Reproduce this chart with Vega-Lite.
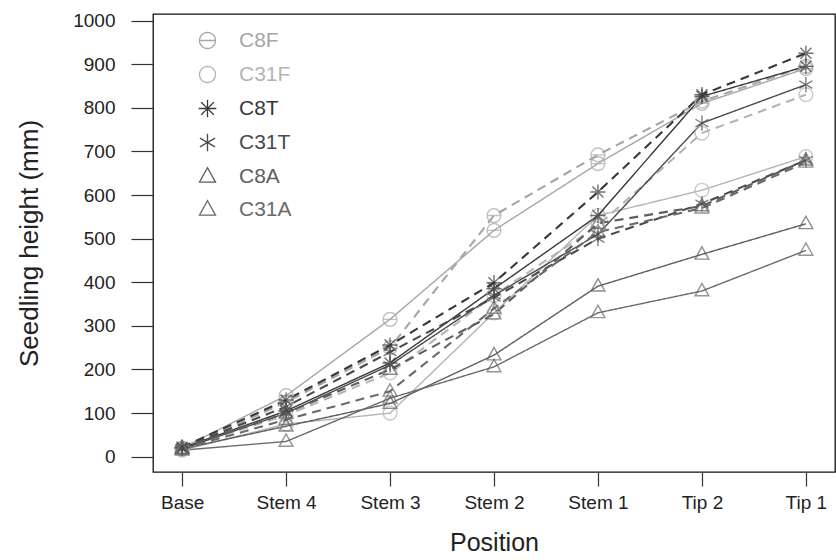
{
  "$schema": "https://vega.github.io/schema/vega-lite/v6.json",
  "width": 682,
  "height": 458,
  "autosize": {"type": "none"},
  "padding": {"left": 153, "top": 14, "right": 1, "bottom": 88},
  "background": "white",
  "config": {
    "font": "Liberation Sans",
    "view": {"stroke": "#111", "strokeWidth": 1.3},
    "axis": {
      "domain": false, "grid": false, "ticks": true,
      "tickColor": "#333", "tickWidth": 1.2,
      "labelFont": "Liberation Sans", "labelFontSize": 19, "labelColor": "#222",
      "titleFont": "Liberation Sans", "titleFontSize": 25, "titleFontWeight": "normal", "titleColor": "#222"
    },
    "legend": {
      "title": null,
      "orient": "none", "legendX": 44, "legendY": 16,
      "symbolSize": 256, "symbolStrokeWidth": 1.3,
      "labelFontSize": 21, "labelFont": "Liberation Sans", "labelOffset": 21,
      "rowPadding": 11
    }
  },
  "datasets": {
    "heights": [
      {"series": "C8F", "style": "solid", "pos": "Base", "v": 20},
      {"series": "C8F", "style": "solid", "pos": "Stem 4", "v": 140},
      {"series": "C8F", "style": "solid", "pos": "Stem 3", "v": 315},
      {"series": "C8F", "style": "solid", "pos": "Stem 2", "v": 519},
      {"series": "C8F", "style": "solid", "pos": "Stem 1", "v": 672},
      {"series": "C8F", "style": "solid", "pos": "Tip 2", "v": 810},
      {"series": "C8F", "style": "solid", "pos": "Tip 1", "v": 890},
      {"series": "C8F", "style": "dashed", "pos": "Base", "v": 18},
      {"series": "C8F", "style": "dashed", "pos": "Stem 4", "v": 125},
      {"series": "C8F", "style": "dashed", "pos": "Stem 3", "v": 250},
      {"series": "C8F", "style": "dashed", "pos": "Stem 2", "v": 553},
      {"series": "C8F", "style": "dashed", "pos": "Stem 1", "v": 692},
      {"series": "C8F", "style": "dashed", "pos": "Tip 2", "v": 815},
      {"series": "C8F", "style": "dashed", "pos": "Tip 1", "v": 895},
      {"series": "C31F", "style": "solid", "pos": "Base", "v": 15},
      {"series": "C31F", "style": "solid", "pos": "Stem 4", "v": 75},
      {"series": "C31F", "style": "solid", "pos": "Stem 3", "v": 100},
      {"series": "C31F", "style": "solid", "pos": "Stem 2", "v": 330},
      {"series": "C31F", "style": "solid", "pos": "Stem 1", "v": 553},
      {"series": "C31F", "style": "solid", "pos": "Tip 2", "v": 611},
      {"series": "C31F", "style": "solid", "pos": "Tip 1", "v": 688},
      {"series": "C31F", "style": "dashed", "pos": "Base", "v": 20},
      {"series": "C31F", "style": "dashed", "pos": "Stem 4", "v": 95},
      {"series": "C31F", "style": "dashed", "pos": "Stem 3", "v": 192},
      {"series": "C31F", "style": "dashed", "pos": "Stem 2", "v": 370},
      {"series": "C31F", "style": "dashed", "pos": "Stem 1", "v": 530},
      {"series": "C31F", "style": "dashed", "pos": "Tip 2", "v": 742},
      {"series": "C31F", "style": "dashed", "pos": "Tip 1", "v": 830},
      {"series": "C8T", "style": "solid", "pos": "Base", "v": 20},
      {"series": "C8T", "style": "solid", "pos": "Stem 4", "v": 105},
      {"series": "C8T", "style": "solid", "pos": "Stem 3", "v": 215},
      {"series": "C8T", "style": "solid", "pos": "Stem 2", "v": 385},
      {"series": "C8T", "style": "solid", "pos": "Stem 1", "v": 553},
      {"series": "C8T", "style": "solid", "pos": "Tip 2", "v": 826},
      {"series": "C8T", "style": "solid", "pos": "Tip 1", "v": 895},
      {"series": "C8T", "style": "dashed", "pos": "Base", "v": 22},
      {"series": "C8T", "style": "dashed", "pos": "Stem 4", "v": 130},
      {"series": "C8T", "style": "dashed", "pos": "Stem 3", "v": 256},
      {"series": "C8T", "style": "dashed", "pos": "Stem 2", "v": 399},
      {"series": "C8T", "style": "dashed", "pos": "Stem 1", "v": 607},
      {"series": "C8T", "style": "dashed", "pos": "Tip 2", "v": 830},
      {"series": "C8T", "style": "dashed", "pos": "Tip 1", "v": 925},
      {"series": "C31T", "style": "solid", "pos": "Base", "v": 18},
      {"series": "C31T", "style": "solid", "pos": "Stem 4", "v": 100},
      {"series": "C31T", "style": "solid", "pos": "Stem 3", "v": 210},
      {"series": "C31T", "style": "solid", "pos": "Stem 2", "v": 370},
      {"series": "C31T", "style": "solid", "pos": "Stem 1", "v": 510},
      {"series": "C31T", "style": "solid", "pos": "Tip 2", "v": 765},
      {"series": "C31T", "style": "solid", "pos": "Tip 1", "v": 853},
      {"series": "C31T", "style": "dashed", "pos": "Base", "v": 20},
      {"series": "C31T", "style": "dashed", "pos": "Stem 4", "v": 115},
      {"series": "C31T", "style": "dashed", "pos": "Stem 3", "v": 240},
      {"series": "C31T", "style": "dashed", "pos": "Stem 2", "v": 365},
      {"series": "C31T", "style": "dashed", "pos": "Stem 1", "v": 500},
      {"series": "C31T", "style": "dashed", "pos": "Tip 2", "v": 580},
      {"series": "C31T", "style": "dashed", "pos": "Tip 1", "v": 680},
      {"series": "C8A", "style": "solid", "pos": "Base", "v": 18},
      {"series": "C8A", "style": "solid", "pos": "Stem 4", "v": 70},
      {"series": "C8A", "style": "solid", "pos": "Stem 3", "v": 122},
      {"series": "C8A", "style": "solid", "pos": "Stem 2", "v": 233},
      {"series": "C8A", "style": "solid", "pos": "Stem 1", "v": 391},
      {"series": "C8A", "style": "solid", "pos": "Tip 2", "v": 464},
      {"series": "C8A", "style": "solid", "pos": "Tip 1", "v": 534},
      {"series": "C8A", "style": "dashed", "pos": "Base", "v": 20},
      {"series": "C8A", "style": "dashed", "pos": "Stem 4", "v": 100},
      {"series": "C8A", "style": "dashed", "pos": "Stem 3", "v": 200},
      {"series": "C8A", "style": "dashed", "pos": "Stem 2", "v": 327},
      {"series": "C8A", "style": "dashed", "pos": "Stem 1", "v": 535},
      {"series": "C8A", "style": "dashed", "pos": "Tip 2", "v": 575},
      {"series": "C8A", "style": "dashed", "pos": "Tip 1", "v": 680},
      {"series": "C31A", "style": "solid", "pos": "Base", "v": 15},
      {"series": "C31A", "style": "solid", "pos": "Stem 4", "v": 35},
      {"series": "C31A", "style": "solid", "pos": "Stem 3", "v": 134},
      {"series": "C31A", "style": "solid", "pos": "Stem 2", "v": 206},
      {"series": "C31A", "style": "solid", "pos": "Stem 1", "v": 330},
      {"series": "C31A", "style": "solid", "pos": "Tip 2", "v": 380},
      {"series": "C31A", "style": "solid", "pos": "Tip 1", "v": 473},
      {"series": "C31A", "style": "dashed", "pos": "Base", "v": 18},
      {"series": "C31A", "style": "dashed", "pos": "Stem 4", "v": 85},
      {"series": "C31A", "style": "dashed", "pos": "Stem 3", "v": 150},
      {"series": "C31A", "style": "dashed", "pos": "Stem 2", "v": 340},
      {"series": "C31A", "style": "dashed", "pos": "Stem 1", "v": 515},
      {"series": "C31A", "style": "dashed", "pos": "Tip 2", "v": 570},
      {"series": "C31A", "style": "dashed", "pos": "Tip 1", "v": 675}
    ]
  },
  "data": {"name": "heights"},
  "encoding": {
    "x": {
      "field": "pos", "type": "ordinal",
      "sort": ["Base", "Stem 4", "Stem 3", "Stem 2", "Stem 1", "Tip 2", "Tip 1"],
      "scale": {"type": "point", "padding": 0.28},
      "axis": {"title": "Position", "labelAngle": 0, "tickSize": 14, "labelPadding": 7, "titlePadding": 18}
    },
    "y": {
      "field": "v", "type": "quantitative",
      "scale": {"domain": [-35, 1015], "nice": false, "zero": false},
      "axis": {"title": "Seedling height (mm)", "format": "d", "values": [0, 100, 200, 300, 400, 500, 600, 700, 800, 900, 1000], "tickSize": 22, "labelPadding": 16, "titlePadding": 30, "titleFontSize": 26}
    },
    "color": {
      "field": "series", "type": "nominal",
      "scale": {"domain": ["C8F", "C31F", "C8T", "C31T", "C8A", "C31A"], "range": ["#a6a6a6", "#b4b4b4", "#383838", "#4a4a4a", "#5e5e5e", "#6a6a6a"]},
      "legend": {
        "encode": {
          "symbols": {"update": {
            "size": {"value": 256},
            "fill": {"value": "transparent"},
            "strokeDash": {"value": [1, 0]},
            "strokeWidth": {"value": 1.3},
            "shape": {"signal": "datum.value === 'C8F' ? 'M-3,0H3M0.75,0A0.75,0.75 0 1,1 -0.75,0A0.75,0.75 0 1,1 0.75,0' : datum.value === 'C31F' ? 'M-3,0H-0.75M0.75,0H3M0.75,0A0.75,0.75 0 1,1 -0.75,0A0.75,0.75 0 1,1 0.75,0' : datum.value === 'C8T' ? 'M-3,0H3M0,-0.9V0.9M-0.65,-0.65L0.65,0.65M-0.65,0.65L0.65,-0.65' : datum.value === 'C31T' ? 'M-3,0H3M0,-0.9V0.9M-0.78,-0.45L0.78,0.45M-0.78,0.45L0.78,-0.45' : 'M-3,0.2H-0.6M0.6,0.2H3M0,-0.85L0.8,0.55L-0.8,0.55Z'"}
          }},
          "labels": {"update": {"fill": {"signal": "scale('color', datum.value)"}}}
        }
      }
    }
  },
  "layer": [
    {
      "mark": {"type": "line"},
      "encoding": {
        "strokeDash": {
          "field": "style", "type": "nominal",
          "scale": {"domain": ["solid", "dashed"], "range": [[1, 0], [9, 6]]},
          "legend": null
        },
        "strokeWidth": {
          "field": "style", "type": "nominal",
          "scale": {"domain": ["solid", "dashed"], "range": [1.4, 2.1]},
          "legend": null
        },
        "detail": {"field": "style"}
      }
    },
    {
      "mark": {"type": "point", "filled": false, "size": 190, "strokeWidth": 1.4},
      "encoding": {
        "shape": {
          "field": "series", "type": "nominal",
          "scale": {"domain": ["C8F", "C31F", "C8T", "C31T", "C8A", "C31A"], "range": [
            "M-1,0H1M1,0A1,1 0 1,1 -1,0A1,1 0 1,1 1,0",
            "M1,0A1,1 0 1,1 -1,0A1,1 0 1,1 1,0",
            "M0,-1.1V1.1M-1.1,0H1.1M-0.8,-0.8L0.8,0.8M-0.8,0.8L0.8,-0.8",
            "M0,-1.1V1.1M-0.95,-0.55L0.95,0.55M-0.95,0.55L0.95,-0.55",
            "M0,-1.1L1,0.7L-1,0.7Z",
            "M0,-1.1L1,0.7L-1,0.7Z"
          ]},
          "legend": {
            "encode": {
              "symbols": {"update": {
                "size": {"value": 256},
                "fill": {"value": "transparent"},
                "strokeDash": {"value": [1, 0]},
                "strokeWidth": {"value": 1.3},
                "shape": {"signal": "datum.value === 'C8F' ? 'M-3,0H3M0.75,0A0.75,0.75 0 1,1 -0.75,0A0.75,0.75 0 1,1 0.75,0' : datum.value === 'C31F' ? 'M-3,0H-0.75M0.75,0H3M0.75,0A0.75,0.75 0 1,1 -0.75,0A0.75,0.75 0 1,1 0.75,0' : datum.value === 'C8T' ? 'M-3,0H3M0,-0.9V0.9M-0.65,-0.65L0.65,0.65M-0.65,0.65L0.65,-0.65' : datum.value === 'C31T' ? 'M-3,0H3M0,-0.9V0.9M-0.78,-0.45L0.78,0.45M-0.78,0.45L0.78,-0.45' : 'M-3,0.2H-0.6M0.6,0.2H3M0,-0.85L0.8,0.55L-0.8,0.55Z'"}
              }},
              "labels": {"update": {"fill": {"signal": "scale('color', datum.value)"}}}
            }
          }
        },
        "detail": {"field": "style"}
      }
    }
  ]
}
